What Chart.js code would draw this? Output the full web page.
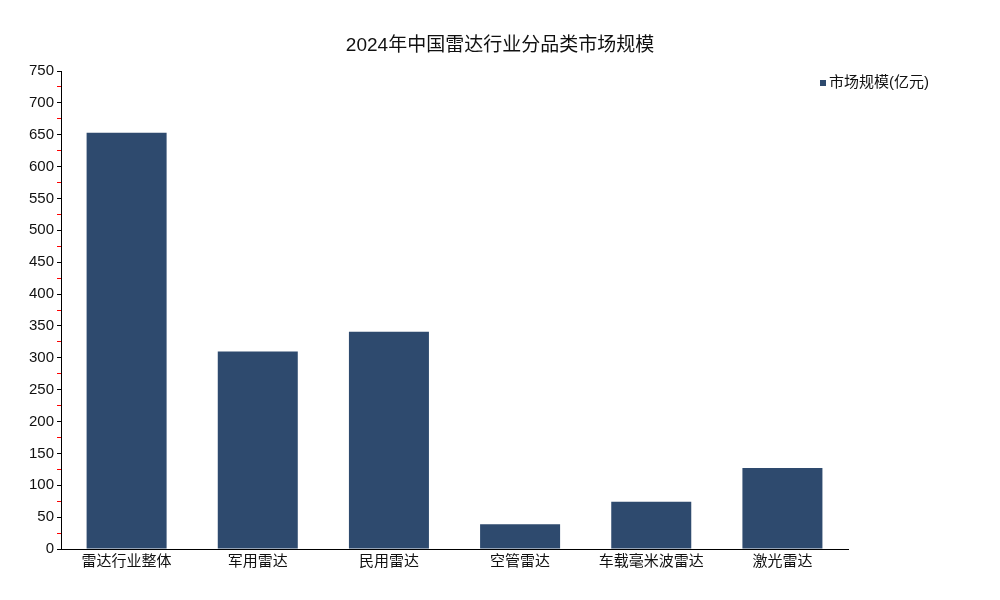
<!DOCTYPE html>
<html><head><meta charset="utf-8">
<script src="https://cdn.jsdelivr.net/npm/chart.js@4"></script>
<style>body{margin:0;background:#fff}#w{width:1000px;height:600px}</style>
</head><body><div id="w"><canvas id="c"></canvas></div>
<script>
const categories=["雷达行业整体","军用雷达","民用雷达","空管雷达","车载毫米波雷达","激光雷达"];
const values=[653,310,341,39,74,127];
const seriesName="市场规模(亿元)";
const titleText="2024年中国雷达行业分品类市场规模";
const F="'Liberation Sans','Noto Sans CJK SC',sans-serif";
const deco={id:'deco',afterDraw(ch){const x=ch.ctx;x.save();
 x.fillStyle='#111';x.font='19px '+F;x.textAlign='center';x.textBaseline='middle';x.fillText(titleText,500,46);
 x.textAlign='left';x.fillStyle='#2e4a6e';x.fillRect(820,80,6,6);
 x.fillStyle='#111';x.font='15px '+F;x.fillText(seriesName,829,83);x.restore();}};
new Chart(document.getElementById('c'),{
 type:'bar',
 data:{labels:categories,datasets:[{label:seriesName,data:values,backgroundColor:'#2e4a6e',categoryPercentage:0.61,barPercentage:1}]},
 plugins:[deco],
 options:{responsive:true,maintainAspectRatio:false,animation:false,
  layout:{padding:{left:26,right:152,top:71,bottom:25}},
  plugins:{title:{display:false},legend:{display:false},tooltip:{enabled:false}},
  scales:{
   x:{grid:{display:false,drawTicks:false},border:{color:'#000'},ticks:{color:'#111',font:{family:F,size:15},padding:4}},
   y:{min:0,max:750,grid:{display:true,drawOnChartArea:false,drawTicks:true,tickLength:4,color:c=>(c.tick&&c.tick.value%50===0)?'#000':'#f00'},border:{color:'#000'},
    ticks:{stepSize:25,autoSkip:false,color:'#111',font:{family:F,size:15},padding:3,callback:v=>v%50===0?v:''}}
  }}
});
</script></body></html>
